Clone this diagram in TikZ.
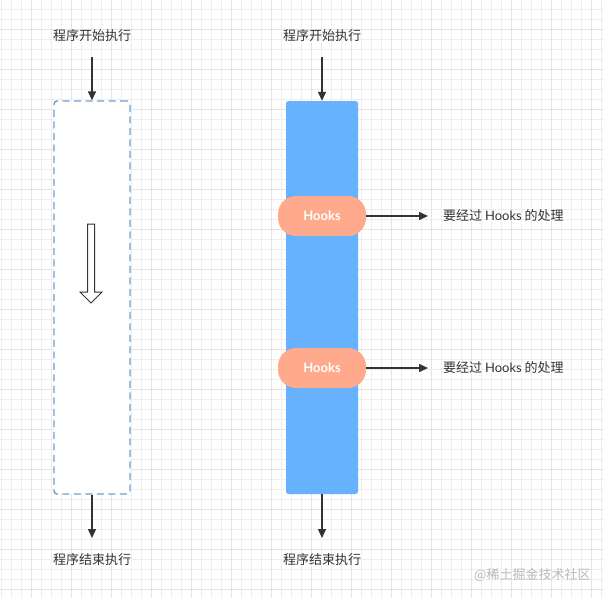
\documentclass[tikz,border=0pt]{standalone}
\usepackage{fontspec}
\setmainfont{Noto Sans CJK SC}
\newfontfamily\latinf{Lato}
\usetikzlibrary{arrows.meta}
\definecolor{gridminor}{HTML}{EEEEEE}
\definecolor{gridmajor}{HTML}{E4E4E4}
\definecolor{boxblue}{HTML}{66B2FF}
\definecolor{dashblue}{HTML}{6F9FCC}
\definecolor{hookfill}{HTML}{FFAA8C}
\definecolor{ink}{HTML}{333333}
\begin{document}
\begin{tikzpicture}[x=1pt,y=-1pt,
  lbl/.style={font=\fontsize{13}{15}\selectfont, text=ink, inner sep=0pt},
  conn/.style={draw=ink, line width=1.4pt, -{Triangle[length=9pt,width=8pt]}},
  hookbox/.style={fill=hookfill, rounded corners=18pt, minimum width=88pt, minimum height=40pt, inner sep=0pt, font=\latinf\bfseries\fontsize{13}{15}\selectfont, text=white},
  wm/.style={font=\fontsize{13}{15}\selectfont, text=gray!55, inner sep=0pt}]
\useasboundingbox (0,0) rectangle (604,598);
\fill[white] (0,0) rectangle (604,598);
\foreach \i in {0,...,60} {\draw[gridminor, line width=0.5pt] (\i*10+1,0) -- (\i*10+1,598);}
\foreach \i in {0,...,59} {\draw[gridminor, line width=0.5pt] (0,\i*10-1) -- (604,\i*10-1);}
\foreach \i in {0,...,15} {\draw[gridmajor, line width=0.7pt] (\i*40-9,0) -- (\i*40-9,598);}
\foreach \i in {0,...,15} {\draw[gridmajor, line width=0.7pt] (0,\i*40-11) -- (604,\i*40-11);}

% left column
\node[lbl] (ls) at (92,36) {程序开始执行};
\node[draw=dashblue, line width=1.4pt, dash pattern=on 7pt off 4.5pt, fill=white, rounded corners=3pt, minimum width=76pt, minimum height=393pt, inner sep=0pt] (lbox) at (92,297.5) {};
\node[lbl] (le) at (92,560) {程序结束执行};
\draw[conn] (92,57) -- (lbox.north);
\draw[conn] (lbox.south) -- (92,538);
% hollow arrow
\draw[ink, line width=1pt, fill=white] (87.5,224) -- (94.5,224) -- (94.5,292) -- (102,292) -- (91,303) -- (80,292) -- (87.5,292) -- cycle;

% right column
\node[lbl] (rs) at (322,36) {程序开始执行};
\node[fill=boxblue, rounded corners=2.5pt, minimum width=72pt, minimum height=393pt, inner sep=0pt] (rbox) at (322,297.5) {};
\node[lbl] (re) at (322,560) {程序结束执行};
\draw[conn] (322,57) -- (rbox.north);
\draw[conn] (rbox.south) -- (322,538);

\node[hookbox] (h1) at (322,216) {Hooks};
\node[hookbox] (h2) at (322,368) {Hooks};
\node[lbl, anchor=west] (t1) at (443,216) {要经过 {\latinf Hooks} 的处理};
\node[lbl, anchor=west] (t2) at (443,368) {要经过 {\latinf Hooks} 的处理};
\coordinate (a1) at (428,216);
\coordinate (a2) at (428,368);
\draw[conn] (h1.east) -- (a1);
\draw[conn] (h2.east) -- (a2);

\node[wm, anchor=west] (w) at (474,575) {@稀土掘金技术社区};
\end{tikzpicture}
\end{document}
